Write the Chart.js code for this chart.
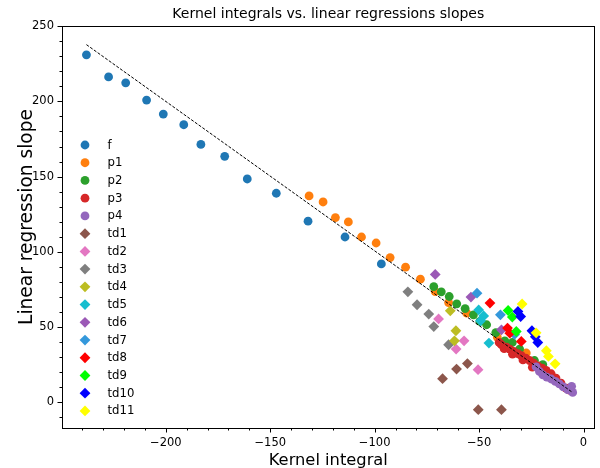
<!DOCTYPE html>
<html>
<head>
<meta charset="utf-8">
<script src="https://cdn.jsdelivr.net/npm/chart.js@4.4.0/dist/chart.umd.min.js"></script>
<style>
  html, body { margin: 0; padding: 0; background: #fff; }
  #wrap { width: 600px; height: 468px; }
</style>
</head>
<body>
<div id="wrap"><canvas id="c" width="600" height="468"></canvas></div>
<script>
// [kernel integral, linear regression slope] per group
const f = [[-238.0,231.0],[-227.4,216.3],[-219.2,212.4],[-209.2,200.9],[-201.2,191.6],[-191.4,184.5],
  [-183.2,171.4],[-171.8,163.5],[-161.0,148.4],[-147.1,138.9],[-131.9,120.3],[-114.2,109.8],[-96.8,91.9]];
const p1 = [[-131.4,137.1],[-124.7,133.1],[-118.8,122.7],[-112.6,119.8],[-106.3,109.8],[-99.3,105.8],
  [-92.6,96.1],[-85.2,89.7],[-78.1,81.7],[-71.0,73.5],[-64.6,66.2],[-55.9,59.1],[-41.3,43.2],[-27.4,32.6]];
const p2 = [[-71.7,76.8],[-68.1,73.3],[-64.3,70.2],[-60.7,65.3],[-56.7,62.2],[-52.7,58.0],[-49.6,53.6],
  [-46.4,51.4],[-42.0,46.2],[-37.7,40.7],[-34.1,39.6],[-30.6,35.2],[-23.5,27.6],[-19.5,24.8]];
const p3 = [[-40.4,39.6],[-39.3,38.1],[-38.0,35.5],[-36.9,36.5],[-35.3,35.2],[-34.0,31.8],[-33.4,33.6],
  [-31.4,32.1],[-29.8,30.8],[-29.0,28.0],[-27.7,29.2],[-25.8,27.6],[-24.5,23.2],[-23.9,25.9],[-21.9,24.1],
  [-19.8,22.6],[-19.0,19.5],[-17.9,21.0],[-15.5,18.8],[-13.2,15.9],[-10.8,12.6],[-8.4,9.3],[-7.0,8.0]];
const p4 = [[-22.7,23.3],[-21.1,20.3],[-19.5,18.1],[-17.6,16.6],[-15.5,15.3],[-13.5,13.7],[-11.6,12.0],
  [-9.7,10.0],[-7.6,8.2],[-5.7,10.4],[-5.2,6.4]];
const td1 = [[-67.5,15.5],[-60.8,21.9],[-55.6,25.6],[-50.4,-5.1],[-39.3,-5.1]];
const td2 = [[-69.4,55.3],[-57.2,40.7],[-61.0,35.2],[-50.5,21.5]];
const td3 = [[-84.1,73.3],[-79.7,64.7],[-74.1,58.5],[-71.7,50.2],[-64.6,38.1]];
const td4 = [[-63.8,60.7],[-61.1,47.4],[-61.8,40.7]];
const td5 = [[-50.2,61.3],[-47.8,57.3],[-49.3,54.0],[-45.3,39.2]];
const td6 = [[-71.0,84.9],[-53.9,69.8],[-39.3,48.0]];
const td7 = [[-51.0,72.4],[-39.8,58.0],[-33.0,45.0]];
const td8 = [[-44.8,65.8],[-36.4,49.2],[-35.3,45.8],[-29.8,40.3]];
const td9 = [[-36.1,60.9],[-34.1,56.5],[-32.2,46.9]];
const td10 = [[-31.4,60.3],[-30.1,56.9],[-24.7,47.4],[-23.1,43.4],[-21.9,39.6]];
const td11 = [[-29.4,65.2],[-22.7,46.0],[-17.8,34.1],[-16.8,30.3],[-13.6,25.4]];

// overall fit through the points
const fitLine = [[-238.0,237.8],[-5.2,6.3]];

const X_TICKS = [-200, -150, -100, -50, 0];
const Y_TICKS = [0, 50, 100, 150, 200, 250];

const groups = [
  { label: 'f',    pts: f,    color: '#1f77b4', shape: 'circle' },
  { label: 'p1',   pts: p1,   color: '#ff7f0e', shape: 'circle' },
  { label: 'p2',   pts: p2,   color: '#2ca02c', shape: 'circle' },
  { label: 'p3',   pts: p3,   color: '#d62728', shape: 'circle' },
  { label: 'p4',   pts: p4,   color: '#9467bd', shape: 'circle' },
  { label: 'td1',  pts: td1,  color: '#8c564b', shape: 'rectRot' },
  { label: 'td2',  pts: td2,  color: '#e377c2', shape: 'rectRot' },
  { label: 'td3',  pts: td3,  color: '#7f7f7f', shape: 'rectRot' },
  { label: 'td4',  pts: td4,  color: '#bcbd22', shape: 'rectRot' },
  { label: 'td5',  pts: td5,  color: '#17becf', shape: 'rectRot' },
  { label: 'td6',  pts: td6,  color: '#9b59b6', shape: 'rectRot' },
  { label: 'td7',  pts: td7,  color: '#3498db', shape: 'rectRot' },
  { label: 'td8',  pts: td8,  color: '#ff0000', shape: 'rectRot' },
  { label: 'td9',  pts: td9,  color: '#00ff00', shape: 'rectRot' },
  { label: 'td10', pts: td10, color: '#0000ff', shape: 'rectRot' },
  { label: 'td11', pts: td11, color: '#ffff00', shape: 'rectRot' }
];

const FONT = '"DejaVu Sans", Verdana, sans-serif';
const CIRCLE_R = 4.4, DIAMOND_R = 5.4;

const fmt = v => v < 0 ? '\u2212' + Math.abs(v) : String(v);

function marker(ctx, shape, x, y, color) {
  ctx.fillStyle = color;
  ctx.beginPath();
  if (shape === 'circle') {
    ctx.arc(x, y, CIRCLE_R, 0, Math.PI * 2);
  } else {
    ctx.moveTo(x - DIAMOND_R, y); ctx.lineTo(x, y - DIAMOND_R);
    ctx.lineTo(x + DIAMOND_R, y); ctx.lineTo(x, y + DIAMOND_R);
    ctx.closePath();
  }
  ctx.fill();
}

// spines, major/minor tick marks, title, axis titles and legend
const decor = {
  id: 'decor',
  afterDraw(chart) {
    const { ctx, chartArea: a, scales: { x, y } } = chart;
    ctx.save();
    ctx.strokeStyle = '#000';
    ctx.lineWidth = 1;
    ctx.strokeRect(Math.round(a.left) + 0.5, Math.round(a.top) + 0.5,
      Math.round(a.right - a.left) - 1, Math.round(a.bottom - a.top));

    ctx.beginPath();
    for (let v = -240; v <= 0; v += 10) {
      const px = Math.round(x.getPixelForValue(v)) + 0.5;
      const len = v % 50 === 0 ? 4.5 : 2.5;
      ctx.moveTo(px, a.bottom); ctx.lineTo(px, a.bottom + len);
    }
    for (let v = -10; v <= 250; v += 10) {
      const py = Math.round(y.getPixelForValue(v)) + 0.5;
      const len = v % 50 === 0 ? 4.5 : 2.5;
      ctx.moveTo(a.left, py); ctx.lineTo(a.left - len, py);
    }
    ctx.stroke();

    const cx = (a.left + a.right) / 2;
    ctx.fillStyle = '#000';
    ctx.textAlign = 'center';
    ctx.textBaseline = 'alphabetic';
    ctx.font = '14px ' + FONT;
    ctx.fillText('Kernel integrals vs. linear regressions slopes', cx, 18);
    ctx.font = '16.3px ' + FONT;
    ctx.fillText('Kernel integral', cx, 465);

    ctx.save();
    ctx.translate(32, 217);
    ctx.rotate(-Math.PI / 2);
    ctx.font = '18.6px ' + FONT;
    ctx.fillText('Linear regression slope', 0, 0);
    ctx.restore();

    ctx.font = '11.7px ' + FONT;
    ctx.textAlign = 'left';
    ctx.textBaseline = 'middle';
    groups.forEach((g, i) => {
      const ly = 145 + i * 17.73;
      marker(ctx, g.shape, 85, ly, g.color);
      ctx.fillStyle = '#000';
      ctx.fillText(g.label, 107.5, ly + 0.5);
    });
    ctx.restore();
  }
};

const datasets = groups.map((g, i) => ({
  label: g.label,
  data: g.pts.map(([px, py]) => ({ x: px, y: py })),
  pointStyle: g.shape,
  pointRadius: g.shape === 'circle' ? CIRCLE_R : DIAMOND_R,
  pointBackgroundColor: g.color,
  pointBorderColor: g.color,
  pointBorderWidth: 0,
  showLine: false,
  order: -i
}));

datasets.push({
  type: 'line',
  label: 'fit',
  data: fitLine.map(([px, py]) => ({ x: px, y: py })),
  borderColor: '#000',
  borderWidth: 1,
  borderDash: [3, 1.6],
  pointRadius: 0,
  fill: false,
  order: -100
});

new Chart(document.getElementById('c'), {
  type: 'scatter',
  data: { datasets },
  options: {
    responsive: false,
    animation: false,
    devicePixelRatio: 1,
    events: [],
    layout: { padding: { top: 26, right: 1, bottom: 0, left: 0 } },
    plugins: { legend: { display: false }, tooltip: { enabled: false }, title: { display: false } },
    scales: {
      x: {
        type: 'linear', min: -249.7, max: 5.3,
        afterFit: s => { s.height = 40; },
        afterBuildTicks: s => { s.ticks = X_TICKS.map(value => ({ value })); },
        grid: { display: false, drawTicks: false },
        border: { display: false },
        ticks: { color: '#000', font: { family: FONT, size: 11.5 }, padding: 8, maxRotation: 0, callback: fmt }
      },
      y: {
        type: 'linear', min: -17.3, max: 250.2,
        afterFit: s => { s.width = 62; },
        afterBuildTicks: s => { s.ticks = Y_TICKS.map(value => ({ value })); },
        grid: { display: false, drawTicks: false },
        border: { display: false },
        ticks: { color: '#000', font: { family: FONT, size: 11.5 }, padding: 8, callback: fmt }
      }
    }
  },
  plugins: [decor]
});
</script>
</body>
</html>
